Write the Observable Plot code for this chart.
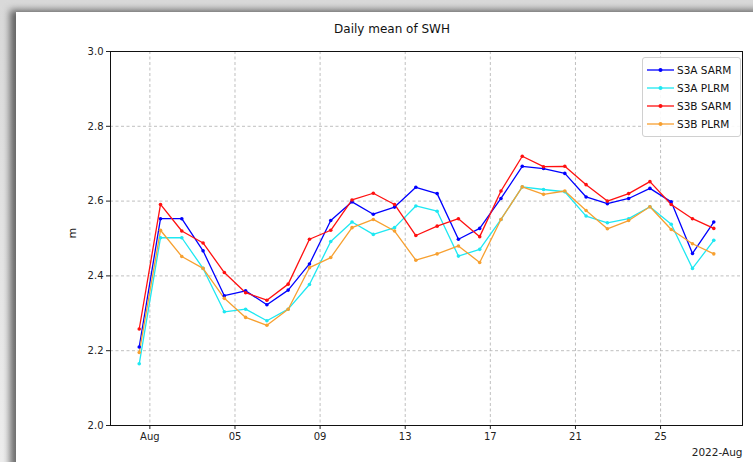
<!DOCTYPE html>
<html>
<head>
<meta charset="utf-8">
<script src="https://cdn.jsdelivr.net/npm/d3@7"></script>
<script src="https://cdn.jsdelivr.net/npm/@observablehq/plot@0.6"></script>
<style>
  html, body { margin: 0; padding: 0; }
  body {
    width: 753px; height: 462px; overflow: hidden; position: relative;
    background: linear-gradient(#d9d9d9, #eeeeee);
    font-family: "DejaVu Sans", sans-serif;
  }
  #panel {
    position: absolute; left: 16px; top: 12px; width: 760px; height: 470px;
    background: #fff;
    box-shadow: -6px -2px 7px rgba(0, 0, 0, 0.55);
  }
  #chart { position: absolute; left: 0; top: 0; }
  #title {
    position: absolute; top: 10px; left: 376px; transform: translateX(-50%);
    font-size: 12px; color: #111; white-space: nowrap;
  }
  #legend {
    position: absolute; left: 626px; top: 45px; width: 97px;
    background: rgba(255,255,255,0.9); border: 1px solid #d0d0d0; border-radius: 3px;
    padding: 3px 0 3px 0; font-size: 10.5px; color: #111;
  }
  #legend .row { display: flex; align-items: center; height: 18px; }
  #legend svg { margin: 0 3px 0 4px; }
</style>
</head>
<body>
<div id="panel">
  <div id="chart"></div>
  <div id="title">Daily mean of SWH</div>
  <div id="legend"></div>
</div>
<script>
// Daily dates (values plotted at midday)
const dates = [
  "2022-07-31", "2022-08-01", "2022-08-02", "2022-08-03", "2022-08-04", "2022-08-05", "2022-08-06",
  "2022-08-07", "2022-08-08", "2022-08-09", "2022-08-10", "2022-08-11", "2022-08-12", "2022-08-13",
  "2022-08-14", "2022-08-15", "2022-08-16", "2022-08-17", "2022-08-18", "2022-08-19", "2022-08-20",
  "2022-08-21", "2022-08-22", "2022-08-23", "2022-08-24", "2022-08-25", "2022-08-26", "2022-08-27"
];

// Daily mean significant wave height (m)
const s3aSarm = [2.21, 2.553, 2.553, 2.467, 2.347, 2.36, 2.323, 2.362, 2.432, 2.548, 2.598, 2.565, 2.584, 2.637,
                 2.62, 2.498, 2.527, 2.607, 2.693, 2.687, 2.674, 2.611, 2.593, 2.607, 2.634, 2.598, 2.46, 2.544];
const s3aPlrm = [2.165, 2.502, 2.502, 2.42, 2.304, 2.311, 2.28, 2.311, 2.377, 2.492, 2.544, 2.511, 2.529, 2.587,
                 2.573, 2.453, 2.471, 2.551, 2.638, 2.631, 2.625, 2.56, 2.542, 2.553, 2.585, 2.538, 2.42, 2.495];
const s3bSarm = [2.258, 2.591, 2.52, 2.488, 2.409, 2.355, 2.335, 2.378, 2.498, 2.522, 2.603, 2.621, 2.591, 2.508,
                 2.533, 2.553, 2.505, 2.627, 2.72, 2.692, 2.693, 2.644, 2.60, 2.62, 2.652, 2.591, 2.553, 2.527];
const s3bPlrm = [2.195, 2.522, 2.452, 2.42, 2.34, 2.289, 2.268, 2.311, 2.422, 2.449, 2.529, 2.551, 2.52, 2.442,
                 2.459, 2.48, 2.436, 2.551, 2.638, 2.618, 2.627, 2.575, 2.526, 2.548, 2.585, 2.524, 2.486, 2.459];

const seriesNames = ["S3A SARM", "S3A PLRM", "S3B SARM", "S3B PLRM"];
const seriesColors = ["#0000ff", "#1ee8f2", "#ff1010", "#f7a030"];
const seriesValues = [s3aSarm, s3aPlrm, s3bSarm, s3bPlrm];

// Axis ticks
const xTickDates = ["2022-08-01", "2022-08-05", "2022-08-09", "2022-08-13", "2022-08-17", "2022-08-21", "2022-08-25"];
const xTickLabels = ["Aug", "05", "09", "13", "17", "21", "25"];
const yTicks = [2.0, 2.2, 2.4, 2.6, 2.8, 3.0];
const yGrid = [2.2, 2.4, 2.6, 2.8];

const noon = s => new Date(s + "T12:00:00Z");
const day = s => new Date(s + "T00:00:00Z");

const rows = seriesNames.flatMap((name, j) =>
  seriesValues[j].map((v, i) => ({date: noon(dates[i]), value: v, name}))
);

const xTicks = xTickDates.map(day);
const labelOf = new Map(xTicks.map((d, i) => [+d, xTickLabels[i]]));

// x extent padded by 5% of the data span on each side
const first = noon(dates[0]), last = noon(dates[dates.length - 1]);
const pad = (last - first) * 0.05;
const xDomain = [new Date(+first - pad), new Date(+last + pad)];

const grid = {stroke: "#b8b8b8", strokeOpacity: 1, strokeWidth: 0.9, strokeDasharray: "3,2.5"};

const chart = Plot.plot({
  width: 737,
  height: 450,
  marginLeft: 94,
  marginRight: 11,
  marginTop: 39,
  marginBottom: 37,
  style: {fontFamily: "DejaVu Sans", fontSize: "10px", color: "#222", background: "transparent", overflow: "visible"},
  x: {type: "utc", domain: xDomain},
  y: {domain: [2, 3]},
  color: {domain: seriesNames, range: seriesColors},
  marks: [
    Plot.gridX(xTicks, grid),
    Plot.gridY(yGrid, grid),
    Plot.axisX(xTicks, {tickSize: 4, tickPadding: 3, tickFormat: d => labelOf.get(+d), label: null}),
    Plot.axisY(yTicks, {tickSize: 4, tickPadding: 3, tickFormat: d3.format(".1f"), label: null}),
    Plot.line(rows, {x: "date", y: "value", z: "name", stroke: "name", strokeWidth: 1.3}),
    Plot.dot(rows, {x: "date", y: "value", fill: "name", r: 1.8}),
    Plot.frame({stroke: "#111", strokeWidth: 1}),
    Plot.text(["m"], {frameAnchor: "left", dx: -38, rotate: -90, fontSize: 11}),
    Plot.text(["2022-Aug"], {frameAnchor: "bottom-right", textAnchor: "end", dy: 30, fontSize: 10.5})
  ]
});
document.getElementById("chart").appendChild(chart);

// Legend: a short line with a marker for each series
const legend = d3.select("#legend");
seriesNames.forEach((name, j) => {
  const row = legend.append("div").attr("class", "row");
  const svg = row.append("svg").attr("width", 27).attr("height", 10);
  svg.append("line").attr("x1", 0).attr("x2", 27).attr("y1", 5).attr("y2", 5)
    .attr("stroke", seriesColors[j]).attr("stroke-width", 1.3);
  svg.append("circle").attr("cx", 13.5).attr("cy", 5).attr("r", 2).attr("fill", seriesColors[j]);
  row.append("span").text(name);
});
</script>
</body>
</html>
